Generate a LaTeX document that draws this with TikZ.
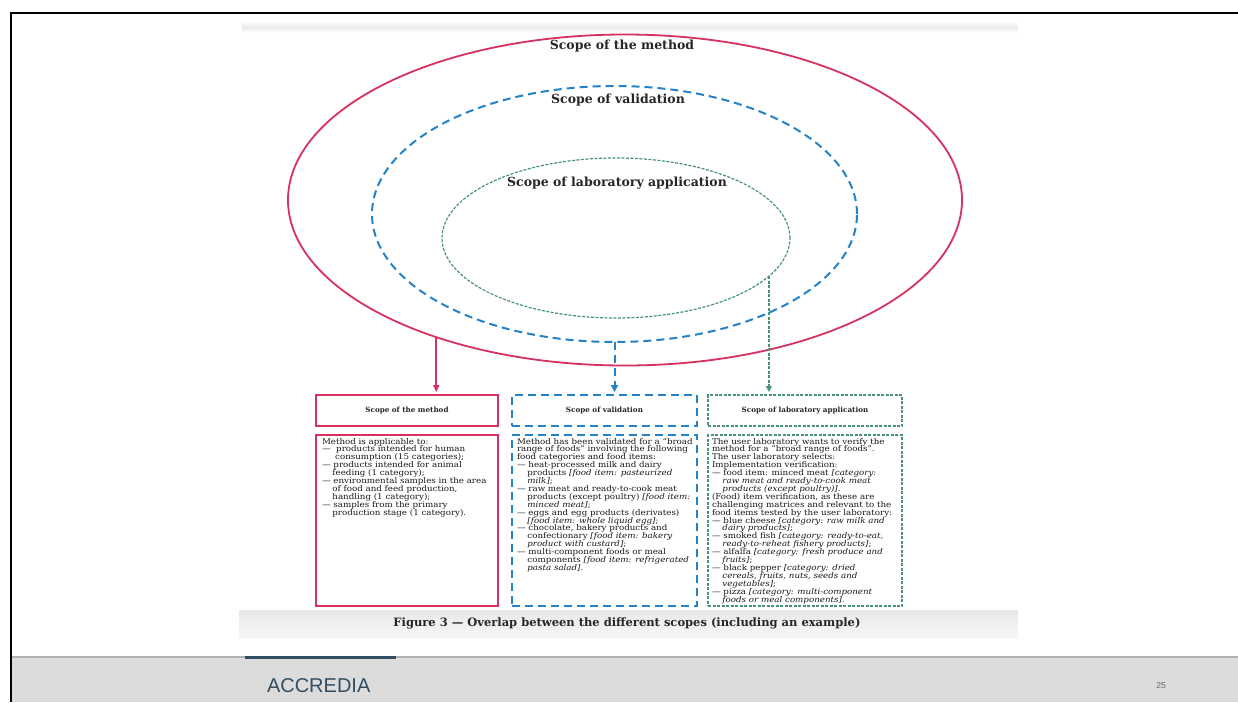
\documentclass[tikz,border=0pt]{standalone}
\usepackage{fontspec}
\setmainfont{DejaVu Serif}
\newfontfamily\bodyfont[FakeStretch=1.1]{DejaVu Serif}
\newfontfamily\footfont{Liberation Sans}
\usetikzlibrary{shapes.geometric,arrows.meta}
\definecolor{rsc}{RGB}{215,50,95}
\definecolor{bsc}{RGB}{35,130,200}
\definecolor{gsc}{RGB}{72,148,112}
\definecolor{footgray}{RGB}{220,220,220}
\definecolor{footline}{RGB}{178,178,178}
\definecolor{accteal}{RGB}{50,78,96}
\newcommand\myind{\hspace*{1.32em}}
\begin{document}
\begin{tikzpicture}[x=1pt,y=-1pt,
  every node/.style={inner sep=0pt, outer sep=0pt},
  redline/.style={draw=rsc, line width=1.8pt},
  blueline/.style={draw=bsc, line width=2pt, dash pattern=on 8pt off 5pt},
  greenline/.style={draw=gsc, line width=1.2pt, dash pattern=on 3pt off 1.5pt},
  ttl/.style={font=\fontsize{12.5}{14}\selectfont\bfseries, text=black!85},
  hdr/.style={font=\fontsize{7.2}{9}\selectfont\bfseries, text=black!85},
  body/.style={font=\bodyfont\fontsize{7.9}{7.9}\selectfont, align=left, anchor=north west, text=black!90},
]
\useasboundingbox (0,0) rectangle (1238,702);
\fill[white] (0,0) rectangle (1238,702);
% slide footer
\fill[footgray] (12,657) rectangle (1238,702);
\draw[footline, line width=2.5pt] (12,657) -- (1238,657);
\draw[accteal, line width=3pt] (245,657) -- (396,657);
\node[font=\footfont\fontsize{20}{22}\selectfont, text=accteal, anchor=west] (acc) at (267,686) {ACCREDIA};
\node[font=\footfont\fontsize{8.5}{9}\selectfont, text=black!60] (pg) at (1161,686) {25};
% frame
\draw[black, line width=2.5pt] (11,702) -- (11,13) -- (1238,13);
% figure bands
\shade[top color=white, bottom color=white, middle color=black!8] (242,21) rectangle (1018,33);
\shade[top color=black!9, bottom color=black!3] (239,610) rectangle (1018,638);
% ellipses
\node[redline, ellipse, minimum width=674pt, minimum height=331pt] (redE) at (625,200) {};
\node[blueline, ellipse, minimum width=485pt, minimum height=256pt] (blueE) at (614.5,214) {};
\node[greenline, ellipse, minimum width=348pt, minimum height=160pt] (greenE) at (616,238) {};
\node[ttl] (tMeth) at (622,46) {Scope of the method};
\node[ttl] (tVal) at (618,100) {Scope of validation};
\node[ttl] (tLab) at (617,183) {Scope of laboratory application};
% header boxes
\node[redline, hdr, minimum width=182pt, minimum height=31pt, anchor=north west] (mh) at (316,395) {Scope of the method};
\node[blueline, hdr, minimum width=185pt, minimum height=31pt, anchor=north west] (vh) at (512,395) {Scope of validation};
\node[greenline, hdr, minimum width=194pt, minimum height=31pt, anchor=north west] (lh) at (708,395) {Scope of laboratory application};
% arrows
\draw[redline, -{Triangle[length=7pt,width=6pt]}, shorten >=3pt] (redE.216.7) -- (redE.216.7 |- mh.north);
\draw[blueline, -{Triangle[length=7pt,width=7pt]}, shorten >=3pt] (blueE.south) -- (blueE.south |- vh.north);
\draw[greenline, -{Triangle[length=6pt,width=6pt]}, shorten >=3pt] (greenE.-14.4) -- (greenE.-14.4 |- lh.north);
% content boxes
\node[redline, minimum width=182pt, minimum height=171pt, anchor=north west] (mb) at (316,435) {};
\node[blueline, minimum width=185pt, minimum height=171pt, anchor=north west] (vb) at (512,435) {};
\node[greenline, minimum width=194pt, minimum height=171pt, anchor=north west] (lb) at (708,435) {};
\node[body] (mt) at ([xshift=6pt,yshift=-3pt]mb.north west) {Method is applicable to:\\
—\ \ products intended for human\\
\myind\ consumption (15 categories);\\
— products intended for animal\\
\myind feeding (1 category);\\
— environmental samples in the area\\
\myind of food and feed production,\\
\myind handling (1 category);\\
— samples from the primary\\
\myind production stage (1 category).};
\node[body] (vt) at ([xshift=5pt,yshift=-3pt]vb.north west) {Method has been validated for a “broad\\
range of foods” involving the following\\
food categories and food items:\\
— heat-processed milk and dairy\\
\myind products \textit{[food item: pasteurized}\\
\myind \textit{milk]};\\
— raw meat and ready-to-cook meat\\
\myind products (except poultry) \textit{[food item:}\\
\myind \textit{minced meat]};\\
— eggs and egg products (derivates)\\
\myind \textit{[food item: whole liquid egg]};\\
— chocolate, bakery products and\\
\myind confectionary \textit{[food item: bakery}\\
\myind \textit{product with custard]};\\
— multi-component foods or meal\\
\myind components \textit{[food item: refrigerated}\\
\myind \textit{pasta salad]}.};
\node[body] (lt) at ([xshift=4pt,yshift=-3pt]lb.north west) {The user laboratory wants to verify the\\
method for a “broad range of foods”.\\
The user laboratory selects:\\
Implementation verification:\\
— food item: minced meat \textit{[category:}\\
\myind\textit{raw meat and ready-to-cook meat}\\
\myind\textit{products (except poultry)]}.\\
(Food) item verification, as these are\\
challenging matrices and relevant to the\\
food items tested by the user laboratory:\\
— blue cheese \textit{[category: raw milk and}\\
\myind\textit{dairy products]};\\
— smoked fish \textit{[category: ready-to-eat,}\\
\myind\textit{ready-to-reheat fishery products]};\\
— alfalfa \textit{[category: fresh produce and}\\
\myind\textit{fruits]};\\
— black pepper \textit{[category: dried}\\
\myind\textit{cereals, fruits, nuts, seeds and}\\
\myind\textit{vegetables]};\\
— pizza \textit{[category: multi-component}\\
\myind\textit{foods or meal components]}.};
% caption
\node[font=\fontsize{11.5}{13}\selectfont\bfseries, text=black!85] (cap) at (627,623) {Figure 3 — Overlap between the different scopes (including an example)};
\end{tikzpicture}
\end{document}
